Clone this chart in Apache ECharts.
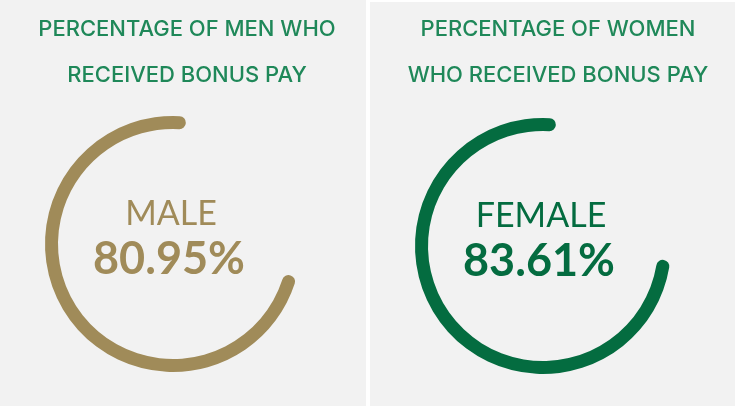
<!DOCTYPE html>
<html>
<head>
<meta charset="utf-8">
<script src="https://cdn.jsdelivr.net/npm/echarts@6/dist/echarts.min.js"></script>
<style>
  html, body { margin: 0; padding: 0; background: #fff; }
  #chart { width: 735px; height: 406px; }
</style>
</head>
<body>
<div id="chart"></div>
<script>
  // data
  const panelTitles = ['PERCENTAGE OF MEN WHO\nRECEIVED BONUS PAY', 'PERCENTAGE OF WOMEN\nWHO RECEIVED BONUS PAY']
  const groups = ['MALE', 'FEMALE']
  const bonusShare = [80.95, 83.61]

  const colors = ['#a08b59', '#046c40']
  const titleGreen = '#1f8859'
  const centers = [[173, 244], [543, 246]]

  const chart = echarts.init(document.getElementById('chart'))

  function ringSeries(i) {
    return {
      type: 'gauge',
      center: centers[i],
      radius: 128,
      startAngle: 87,
      endAngle: 42, // 315 deg sweep, running anticlockwise
      clockwise: false,
      min: 0,
      max: 100,
      pointer: { show: false },
      axisTick: { show: false },
      splitLine: { show: false },
      axisLabel: { show: false },
      axisLine: {
        lineStyle: { width: 13, color: [[1, 'rgba(0,0,0,0)']] }
      },
      progress: {
        show: true,
        width: 13,
        roundCap: true,
        itemStyle: { color: colors[i] }
      },
      title: {
        offsetCenter: [-2, -30],
        color: colors[i],
        fontFamily: 'Lato',
        fontSize: 34,
        fontWeight: 'normal'
      },
      detail: {
        offsetCenter: [-4, 15],
        color: colors[i],
        fontFamily: 'Lato',
        fontSize: 45,
        fontWeight: 'bold',
        formatter: function (v) {
          return v.toFixed(2) + '%'
        }
      },
      data: [{ name: groups[i], value: bonusShare[i] }]
    }
  }

  chart.setOption({
    animation: false,
    graphic: [
      { type: 'rect', left: 0, top: 0, shape: { width: 366, height: 406 }, style: { fill: '#f2f2f2' }, z: -10 },
      { type: 'rect', left: 370, top: 2, shape: { width: 365, height: 404 }, style: { fill: '#f2f2f2' }, z: -10 }
    ],
    title: panelTitles.map(function (t, i) {
      return {
        text: t,
        left: i === 0 ? 182 : 553,
        top: 1,
        textAlign: 'center',
        textStyle: {
          color: titleGreen,
          fontFamily: 'Inter',
          fontSize: 22,
          fontWeight: 500,
          lineHeight: 46
        }
      }
    }),
    series: [ringSeries(0), ringSeries(1)]
  })
</script>
</body>
</html>
